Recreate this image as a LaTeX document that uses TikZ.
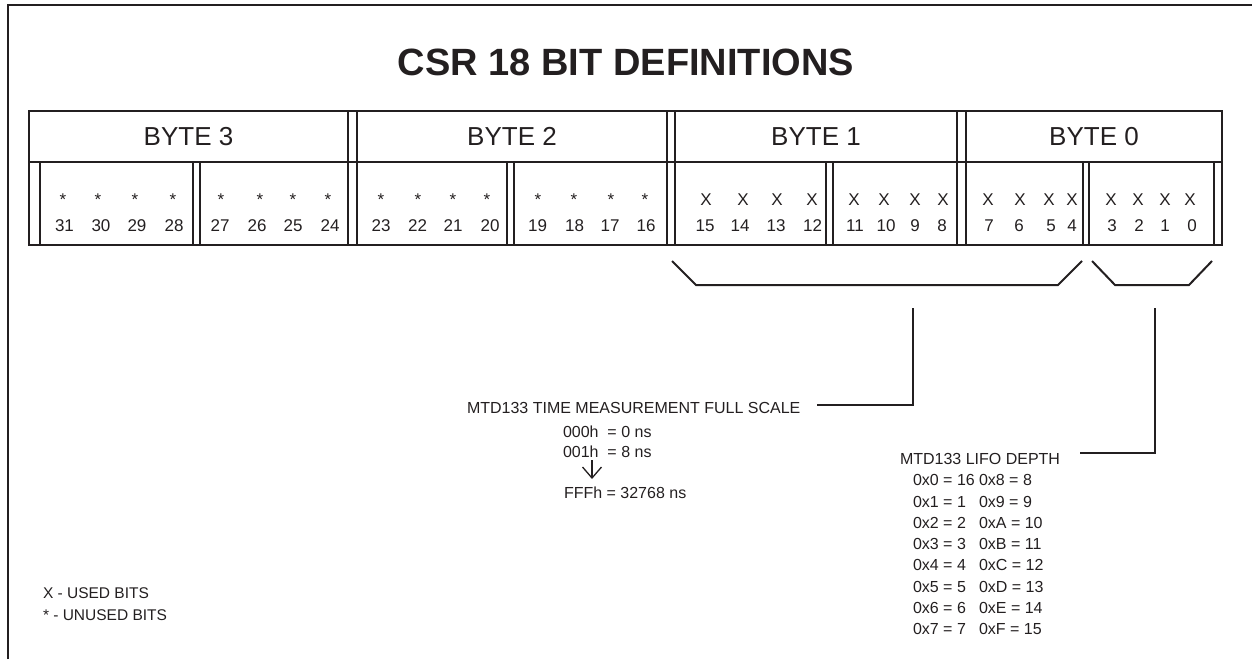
\documentclass[tikz,border=0pt]{standalone}
\usepackage{fontspec}
\setmainfont{Liberation Sans}
\usetikzlibrary{arrows.meta}
\definecolor{ink}{HTML}{231F20}
\begin{document}
\begin{tikzpicture}[x=1pt,y=-1pt,
  frame/.style={line width=2.6pt, draw=ink},
  grid/.style={line width=2.4pt, draw=ink, line cap=rect},
  brace/.style={line width=2pt, draw=ink},
  lead/.style={line width=2pt, draw=ink},
  txt/.style={inner sep=0pt, outer sep=0pt, text=ink},
  titlelbl/.style={txt, anchor=base, font=\bfseries\fontsize{38}{40}\selectfont},
  bytelbl/.style={txt, anchor=base, font=\fontsize{26}{28}\selectfont},
  bitlbl/.style={txt, anchor=base, font=\fontsize{17}{19}\selectfont},
  note/.style={txt, anchor=base west, font=\fontsize{16}{18}\selectfont},
  legend/.style={txt, anchor=base west, font=\fontsize{15.5}{17}\selectfont},
]
\useasboundingbox (0,0) rectangle (1252,659);
% outer frame (top and left only)
\draw[frame] (8,659) -- (8,5) -- (1252,5);
% title
\node[titlelbl] (title) at (626,75.6) {CSR 18 BIT DEFINITIONS};
% register table
\draw[grid] (29,111) rectangle (1222,245);
\draw[grid] (29,162) -- (1222,162);
\foreach \x in {348,357,667,675,957,966} \draw[grid] (\x,111) -- (\x,245);
\foreach \x in {40,193,200,507,514,826,833,1083,1089,1214} \draw[grid] (\x,162) -- (\x,245);
% byte labels
\node[bytelbl] (byte3) at (188.5,145) {BYTE 3};
\node[bytelbl] (byte2) at (512,145) {BYTE 2};
\node[bytelbl] (byte1) at (816,145) {BYTE 1};
\node[bytelbl] (byte0) at (1094,145) {BYTE 0};
% unused bits
\foreach \x [count=\i] in {63,98,135,173,221,260,293,328,381,418,453,487,538,574,611,645}
  \node[bitlbl] (star\i) at (\x,205) {*};
% used bits
\foreach \x [count=\i] in {706,743,777,812,854,884,915,943,988,1020,1049,1072,1111,1138,1165,1190}
  \node[bitlbl] (used\i) at (\x,205) {X};
% bit numbers
\foreach \x/\n in {64.5/31,101/30,137/29,174/28,220/27,257/26,293/25,330/24,
  381/23,417.5/22,453/21,490/20,537.5/19,574.5/18,610/17,646/16,
  705/15,740/14,776/13,812.5/12,855/11,886/10,915/9,942/8,
  989/7,1019/6,1051/5,1072/4,1112/3,1139/2,1165/1,1192/0}
  \node[bitlbl] (bit\n) at (\x,231) {\n};
% brackets
\draw[brace] (672,261) -- (696,285) -- (1058,285) -- (1082,261);
\draw[brace] (1092,261) -- (1115,285) -- (1189,285) -- (1212,261);
% time measurement text
\node[note] (tm) at (467,413.7) {MTD133 TIME MEASUREMENT FULL SCALE};
\node[note] (tm0) at (563,437.7) {000h\ \ = 0 ns};
\node[note] (tm1) at (563,457.7) {001h\ \ = 8 ns};
\node[note] (tmf) at (564,498.7) {FFFh = 32768 ns};
\coordinate (a1) at (592,460);
\coordinate (a2) at (592,479);
\draw[line width=1.3pt, draw=ink, -{Straight Barb[length=11pt,width=19pt,line width=1.3pt]}] (a1) -- (a2);
% lead lines
\coordinate (t1) at (913,308);
\coordinate (t1end) at (817,405);
\draw[lead] (t1) |- (t1end);
\coordinate (t2) at (1155,308);
\coordinate (t2end) at (1080,453);
\draw[lead] (t2) |- (t2end);
% LIFO depth
\node[note] (lifo) at (900,464.7) {MTD133 LIFO DEPTH};
\foreach \y/\a/\b [count=\i] in {480/0x0 = 16/0x8 = 8, 502/0x1 = 1/0x9 = 9, 523/0x2 = 2/0xA = 10,
  544/0x3 = 3/0xB = 11, 565/0x4 = 4/0xC = 12, 587/0x5 = 5/0xD = 13, 608/0x6 = 6/0xE = 14, 629/0x7 = 7/0xF = 15}{
  \node[note] (la\i) at (913,\y+5.7) {\a};
  \node[note] (lb\i) at (979,\y+5.7) {\b};
}
% legend
\node[legend] (leg1) at (43,598.5) {X - USED BITS};
\node[legend] (leg2) at (43,620.5) {* - UNUSED BITS};
\end{tikzpicture}
\end{document}
